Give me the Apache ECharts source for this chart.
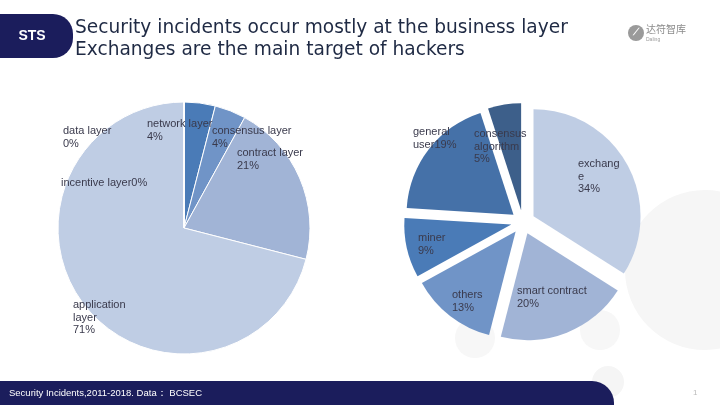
<!DOCTYPE html>
<html>
<head>
<meta charset="utf-8">
<script src="https://cdn.jsdelivr.net/npm/echarts@6/dist/echarts.min.js"></script>
<style>
html,body{margin:0;padding:0;background:#fff;}
#c{width:720px;height:405px;}
</style>
</head>
<body>
<div id="c"></div>
<script>
// ---- data ----
var leftNames = ['network layer', 'consensus layer', 'contract layer', 'application layer', 'incentive layer', 'data layer'];
var leftLabelNames = ['network layer', 'consensus layer', 'contract layer', 'application\nlayer', 'incentive layer', 'data layer'];
var leftValues = [4, 4, 21, 71, 0, 0];
var rightNames = ['exchange', 'smart contract', 'others', 'miner', 'general user', 'consensus algorithm'];
var rightLabelNames = ['exchang\ne', 'smart contract', 'others', 'miner', 'general\nuser', 'consensus\nalgorithm'];
var rightValues = [34, 20, 13, 9, 19, 5];

// ---- styles ----
var leftColors = ['#4a7bb7', '#7094c7', '#a1b4d6', '#bfcde4', '#bfcde4', '#bfcde4'];
var leftSep = ['\n', '\n', '\n', '\n', '', '\n'];
var leftLabelPos = [[147, 118], [212, 125], [237, 147], [73, 299], [61, 177], [63, 125]];
var rightColors = ['#bfcde4', '#a1b4d6', '#7094c7', '#4a7bb7', '#4571a8', '#3d5f8a'];
var rightSep = ['\n', '\n', '\n', '\n', '', '\n'];
var rightLabelPos = [[578, 158], [517, 285], [452, 289], [418, 232], [413, 126], [474, 128]];
var rightCenter = [523, 222];
var rightRadius = 107;
var explode = 12;

var navy = '#1b1d5c';
var txt = '#3a3a4c';
var font = '"Liberation Sans", Arial, sans-serif';
var titleFont = '"DejaVu Sans", sans-serif';

var chart = echarts.init(document.getElementById('c'), null, {renderer: 'canvas'});

var labelStyle = {position: 'inside', color: txt, fontSize: 11, lineHeight: 12.5, fontFamily: font};

var series = [];
// left pie
series.push({
  type: 'pie',
  silent: true,
  center: [184, 228],
  radius: 126,
  startAngle: 90,
  clockwise: true,
  avoidLabelOverlap: false,
  itemStyle: {borderColor: '#fff', borderWidth: 1},
  label: labelStyle,
  labelLine: {show: false},
  labelLayout: function (p) {
    var pos = leftLabelPos[p.dataIndex];
    return {x: pos[0], y: pos[1], align: 'left', verticalAlign: 'top'};
  },
  data: leftNames.map(function (n, i) {
    return {
      name: n, value: leftValues[i],
      itemStyle: {color: leftColors[i]},
      label: {formatter: leftLabelNames[i] + leftSep[i] + '{c}%'}
    };
  })
});

// right pie: exploded, one series per slice (each pulled out along its bisector)
var total = rightValues.reduce(function (a, b) { return a + b; }, 0);
var cum = 0;
rightValues.forEach(function (v, k) {
  var mid = (cum + v / 2) / total * 2 * Math.PI;
  cum += v;
  var c = [rightCenter[0] + explode * Math.sin(mid), rightCenter[1] - explode * Math.cos(mid)];
  series.push({
    type: 'pie',
    silent: true,
    center: c,
    radius: rightRadius,
    startAngle: 90,
    clockwise: true,
    avoidLabelOverlap: false,
    label: labelStyle,
    labelLine: {show: false},
    labelLayout: function (p) {
      if (p.dataIndex !== k) return {};
      var pos = rightLabelPos[k];
      return {x: pos[0], y: pos[1], align: 'left', verticalAlign: 'top'};
    },
    data: rightNames.map(function (n, i) {
      return {
        name: n, value: rightValues[i],
        itemStyle: {color: i === k ? rightColors[i] : 'rgba(0,0,0,0)'},
        label: {show: i === k, formatter: rightLabelNames[i] + rightSep[i] + '{c}%'}
      };
    })
  });
});

var option = {
  animation: false,
  backgroundColor: '#ffffff',
  graphic: [
    // faint watermark shapes
    {type: 'circle', z: -1, shape: {cx: 705, cy: 270, r: 80}, style: {fill: '#f6f6f6'}},
    {type: 'rect', z: -1, shape: {x: 455, y: 318, width: 40, height: 40, r: 20}, style: {fill: '#f7f7f7'}},
    {type: 'rect', z: -1, shape: {x: 580, y: 310, width: 40, height: 40, r: 20}, style: {fill: '#f7f7f7'}},
    {type: 'circle', z: -1, shape: {cx: 608, cy: 382, r: 16}, style: {fill: '#f5f5f5'}},
    // header badge
    {type: 'rect', shape: {x: -20, y: 14, width: 93, height: 44, r: [0, 20, 20, 0]}, style: {fill: navy}},
    {type: 'text', style: {x: 32, y: 36, text: 'STS', fill: '#fff', font: 'bold 14px ' + font, textAlign: 'center', textVerticalAlign: 'middle'}},
    {type: 'text', style: {x: 75, y: 28, text: 'Security incidents occur mostly at the business layer', fill: '#1f2a44', font: '18.6px ' + titleFont, textVerticalAlign: 'middle'}},
    {type: 'text', style: {x: 75, y: 50, text: 'Exchanges are the main target of hackers', fill: '#1f2a44', font: '18.6px ' + titleFont, textVerticalAlign: 'middle'}},
    // logo
    {type: 'circle', shape: {cx: 636, cy: 33, r: 8}, style: {fill: '#9a9a9a'}},
    {type: 'text', style: {x: 636, y: 33, text: '⟋', fill: '#fff', font: 'bold 9px ' + font, textAlign: 'center', textVerticalAlign: 'middle'}},
    {type: 'text', style: {x: 646, y: 29, text: '达符智库', fill: '#8a8a8a', font: '10px "Noto Sans CJK SC"', textVerticalAlign: 'middle'}},
    {type: 'text', style: {x: 646, y: 40, text: 'Daling', fill: '#9a9a9a', font: '5px ' + font, textVerticalAlign: 'middle'}},
    // footer
    {type: 'rect', shape: {x: -20, y: 381, width: 634, height: 40, r: [0, 22, 0, 0]}, style: {fill: navy}},
    {type: 'text', style: {x: 9, y: 393, text: 'Security Incidents,2011-2018. Data： BCSEC', fill: '#fff', font: '9.5px ' + font, textVerticalAlign: 'middle'}},
    {type: 'text', style: {x: 693, y: 393, text: '1', fill: '#bbb', font: '8px ' + font, textVerticalAlign: 'middle'}}
  ],
  series: series
};
chart.setOption(option);
</script>
</body>
</html>
